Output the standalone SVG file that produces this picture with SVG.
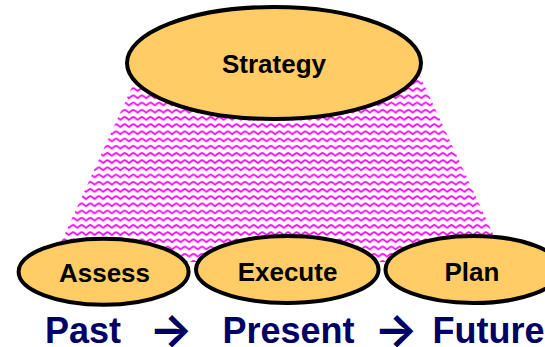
<svg xmlns="http://www.w3.org/2000/svg" width="545" height="347" viewBox="0 0 545 347">
<style>
.node{fill:#FFCC66;stroke:#000;stroke-width:4}
.lbl{font-family:"Liberation Sans",Arial,sans-serif;font-weight:bold;font-size:26px;fill:#000;text-anchor:middle}
.time{font-family:"Liberation Sans",Arial,sans-serif;font-weight:bold;font-size:36px;fill:#000066}
.arr{font-family:Inter,"DejaVu Sans",sans-serif;font-weight:700;font-size:46px;fill:#000066;text-anchor:middle}
</style>
<defs>
<pattern id="wave" patternUnits="userSpaceOnUse" width="8.6" height="7.2">
<path d="M-1,5 C0.6,5 2.6,1.8 4.3,1.8 C6,1.8 8,5 9.6,5" fill="none" stroke="#FF00FF" stroke-width="1.8"/>
</pattern>
</defs>
<g id="shading">
<polygon points="143,63 414,63 506,262 52,262" fill="url(#wave)"/>
</g>
<g id="connectors"></g>
<g id="strategy">
<ellipse class="node" cx="274" cy="63" rx="147" ry="56"/>
<text class="lbl" x="274" y="73">Strategy</text>
</g>
<g id="assess">
<ellipse class="node" cx="103.6" cy="271.8" rx="85" ry="33"/>
<text class="lbl" x="104.5" y="282">Assess</text>
</g>
<g id="execute">
<ellipse class="node" cx="287.3" cy="269.5" rx="91.3" ry="33.5"/>
<text class="lbl" x="287.5" y="280.5">Execute</text>
</g>
<g id="plan">
<ellipse class="node" cx="473.5" cy="269.5" rx="88" ry="33.5"/>
<text class="lbl" x="472" y="280.5">Plan</text>
</g>
<g id="timeline">
<text class="time" x="45" y="343">Past</text>
<text class="arr" x="171" y="346">→</text>
<text class="time" x="222.5" y="343">Present</text>
<text class="arr" x="396" y="346">→</text>
<text class="time" x="432.5" y="343">Future</text>
</g>
</svg>
